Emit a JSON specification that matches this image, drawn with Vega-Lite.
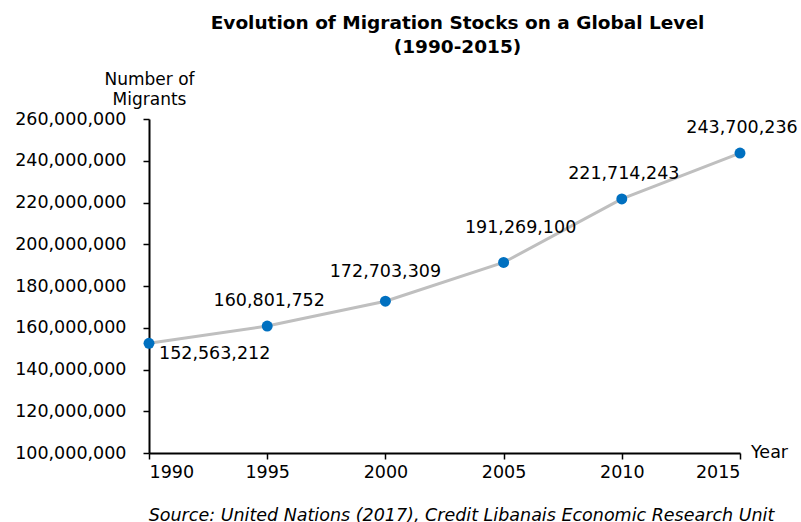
{
  "$schema": "https://vega.github.io/schema/vega-lite/v6.json",
  "width": 591,
  "height": 334,
  "autosize": {"type": "none"},
  "padding": {"left": 149, "top": 119, "right": 61, "bottom": 69},
  "background": "white",
  "config": {
    "font": "DejaVu Sans",
    "view": {"stroke": null}
  },
  "title": {
    "text": ["Evolution of Migration Stocks on a Global Level", "(1990-2015)"],
    "font": "DejaVu Sans",
    "fontSize": 18.5,
    "fontWeight": "bold",
    "color": "#000000",
    "anchor": "middle",
    "dx": 13,
    "dy": -4,
    "lineHeight": 24,
    "offset": 10
  },
  "data": {
    "values": [
      {"year": 1990, "migrants": 152563212, "label": "152,563,212", "pos": "below"},
      {"year": 1995, "migrants": 160801752, "label": "160,801,752", "pos": "above"},
      {"year": 2000, "migrants": 172703309, "label": "172,703,309", "pos": "above2"},
      {"year": 2005, "migrants": 191269100, "label": "191,269,100", "pos": "aboveright"},
      {"year": 2010, "migrants": 221714243, "label": "221,714,243", "pos": "above"},
      {"year": 2015, "migrants": 243700236, "label": "243,700,236", "pos": "above"}
    ]
  },
  "encoding": {
    "x": {
      "field": "year",
      "type": "quantitative",
      "scale": {"domain": [1990, 2015], "nice": false, "zero": false},
      "axis": {
        "values": [1990, 1995, 2000, 2005, 2010, 2015],
        "format": "d",
        "grid": false,
        "domainColor": "#000000",
        "domainWidth": 2,
        "tickColor": "#000000",
        "tickWidth": 1.5,
        "tickSize": 6,
        "labelFontSize": 17.5,
        "labelColor": "#000000",
        "labelPadding": 4,
        "title": "Source: United Nations (2017), Credit Libanais Economic Research Unit",
        "titleFontStyle": "italic",
        "titleFontWeight": "normal",
        "titleFontSize": 17.5,
        "titleColor": "#000000",
        "titleX": 312,
        "titleY": 62,
        "titleAlign": "center",
        "titleBaseline": "middle"
      }
    },
    "y": {
      "field": "migrants",
      "type": "quantitative",
      "scale": {"domain": [100000000, 260000000], "nice": false, "zero": false},
      "axis": {
        "values": [100000000, 120000000, 140000000, 160000000, 180000000, 200000000, 220000000, 240000000, 260000000],
        "format": ",d",
        "grid": false,
        "domainColor": "#000000",
        "domainWidth": 2,
        "tickColor": "#000000",
        "tickWidth": 1.5,
        "tickSize": 6,
        "labelFontSize": 17.5,
        "labelColor": "#000000",
        "labelPadding": 17,
        "title": ["Number of", "Migrants"],
        "titleFontSize": 17,
        "titleFontWeight": "normal",
        "titleColor": "#000000",
        "titleAngle": 0,
        "titleX": 0,
        "titleY": -31,
        "titleAlign": "center",
        "titleBaseline": "bottom",
        "titleLineHeight": 20
      }
    }
  },
  "layer": [
    {
      "mark": {"type": "line", "color": "#BFBFBF", "strokeWidth": 3}
    },
    {
      "mark": {"type": "point", "filled": true, "color": "#0070C0", "size": 120, "opacity": 1}
    },
    {
      "transform": [{"filter": "datum.pos === 'above'"}],
      "mark": {"type": "text", "fontSize": 17.5, "color": "#000000", "dy": -25, "dx": 2, "align": "center"},
      "encoding": {"text": {"field": "label"}}
    },
    {
      "transform": [{"filter": "datum.pos === 'above2'"}],
      "mark": {"type": "text", "fontSize": 17.5, "color": "#000000", "dy": -29, "align": "center"},
      "encoding": {"text": {"field": "label"}}
    },
    {
      "transform": [{"filter": "datum.pos === 'aboveright'"}],
      "mark": {"type": "text", "fontSize": 17.5, "color": "#000000", "dy": -34, "dx": 17, "align": "center"},
      "encoding": {"text": {"field": "label"}}
    },
    {
      "transform": [{"filter": "datum.pos === 'below'"}],
      "mark": {"type": "text", "fontSize": 17.5, "color": "#000000", "dy": 2, "dx": 10, "align": "left", "baseline": "top"},
      "encoding": {"text": {"field": "label"}}
    },
    {
      "transform": [{"filter": "datum.year === 2015"}],
      "mark": {"type": "text", "fontSize": 17.5, "color": "#000000", "dx": 11, "align": "left", "baseline": "middle"},
      "encoding": {
        "x": {"datum": 2015, "type": "quantitative"},
        "y": {"datum": 100000000, "type": "quantitative"},
        "text": {"value": "Year"}
      }
    }
  ]
}
